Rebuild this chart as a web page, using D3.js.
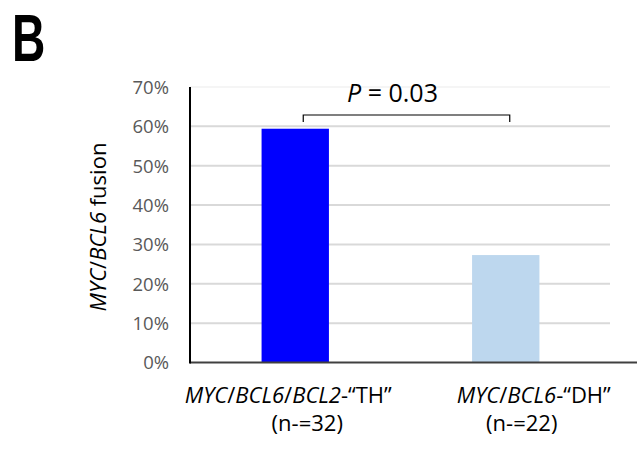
<!DOCTYPE html>
<html>
<head>
<meta charset="utf-8">
<script src="https://cdn.jsdelivr.net/npm/d3@7"></script>
<style>
  body { margin: 0; background: #fff; }
  svg { display: block; }
</style>
</head>
<body>
<svg id="chart" width="637" height="454"></svg>
<script>
const categories = ["TH", "DH"];
const labelLine1 = [
  [["MYC", true], ["/", false], ["BCL6", true], ["/", false], ["BCL2", true], ["-\u201CTH\u201D", false]],
  [["MYC", true], ["/", false], ["BCL6", true], ["-\u201CDH\u201D", false]]
];
const labelLine2 = ["(n-=32)", "(n-=22)"];
const values = [0.594, 0.273];
const barColors = ["#0000ff", "#bdd7ee"];
const yTicks = [0, 0.1, 0.2, 0.3, 0.4, 0.5, 0.6, 0.7];
const pText = "0.03";

const svg = d3.select("#chart");
const pLeft = 190, pRight = 611, pTop = 87, pBottom = 362.5;

const x = d3.scaleBand().domain(categories).range([pLeft, pRight]).paddingInner(0.68).paddingOuter(0.34);
const y = d3.scaleLinear().domain([0, 0.7]).range([pBottom, pTop]);

// panel label
svg.append("text").attr("transform", "translate(12,60.5) scale(0.7,1)")
  .attr("font-family", "Liberation Sans, sans-serif").attr("font-weight", "bold")
  .attr("font-size", 66)
  .text("B");

// gridlines
svg.append("g").selectAll("line").data(yTicks.filter(d => d > 0)).join("line")
  .attr("x1", pLeft).attr("x2", 610).attr("y1", d => y(d)).attr("y2", d => y(d))
  .attr("stroke", "#d9d9d9").attr("stroke-width", d => d === 0.7 ? 1 : 2)
  .attr("stroke-opacity", d => d === 0.7 ? 0.5 : 1);

// y axis
const yAxis = d3.axisLeft(y).tickValues(yTicks).tickFormat(d3.format(".0%")).tickSize(0).tickPadding(21);
const yg = svg.append("g").attr("transform", `translate(${pLeft},0)`).call(yAxis);
yg.select(".domain").remove();
yg.selectAll("text").attr("font-family", "Open Sans, sans-serif").attr("font-size", 18.5)
  .attr("fill", "#595959").attr("dy", "0.35em");

// bars
svg.append("g").selectAll("rect").data(categories).join("rect")
  .attr("x", d => x(d)).attr("width", x.bandwidth())
  .attr("y", (d, i) => y(values[i])).attr("height", (d, i) => y(0) - y(values[i]))
  .attr("fill", (d, i) => barColors[i]);

// axis lines
svg.append("line").attr("x1", pLeft).attr("x2", 637).attr("y1", pBottom).attr("y2", pBottom)
  .attr("stroke", "#404040").attr("stroke-width", 2);
svg.append("line").attr("x1", pLeft).attr("x2", pLeft).attr("y1", pTop).attr("y2", pBottom + 1)
  .attr("stroke", "#000").attr("stroke-width", 2);

// y axis title
const yt = svg.append("text").attr("transform", `translate(106,227) rotate(-90)`)
  .attr("text-anchor", "middle").attr("font-family", "Open Sans, sans-serif").attr("font-size", 22);
yt.append("tspan").attr("font-style", "italic").text("MYC");
yt.append("tspan").text("/");
yt.append("tspan").attr("font-style", "italic").text("BCL6");
yt.append("tspan").text(" fusion");

// x labels
const line1Offsets = [-7, 28];
const line2Offsets = [12, 16];
categories.forEach((c, i) => {
  const cx = x(c) + x.bandwidth() / 2;
  const t = svg.append("text").attr("x", cx + line1Offsets[i]).attr("y", 403)
    .attr("text-anchor", "middle").attr("font-family", "Open Sans, sans-serif").attr("font-size", 22);
  labelLine1[i].forEach(([s, it]) => {
    t.append("tspan").attr("font-style", it ? "italic" : "normal").text(s);
  });
  svg.append("text").attr("x", cx + line2Offsets[i]).attr("y", 430.5)
    .attr("text-anchor", "middle").attr("font-family", "Open Sans, sans-serif").attr("font-size", 22)
    .text(labelLine2[i]);
});

// significance bracket
const bx1 = x(categories[0]) + x.bandwidth() / 2 + 8;
const bx2 = x(categories[1]) + x.bandwidth() / 2 + 4;
const byTop = y(0.7) + 28, byBot = byTop + 7;
svg.append("path")
  .attr("d", `M${bx1},${byBot}V${byTop}H${bx2}V${byBot}`)
  .attr("fill", "none").attr("stroke", "#000").attr("stroke-width", 1.2);
const pt = svg.append("text").attr("x", (bx1 + bx2) / 2 - 14).attr("y", 101.5)
  .attr("text-anchor", "middle").attr("font-family", "Open Sans, sans-serif").attr("font-size", 25);
pt.append("tspan").attr("font-style", "italic").text("P");
pt.append("tspan").text(" = " + pText);
</script>
</body>
</html>
